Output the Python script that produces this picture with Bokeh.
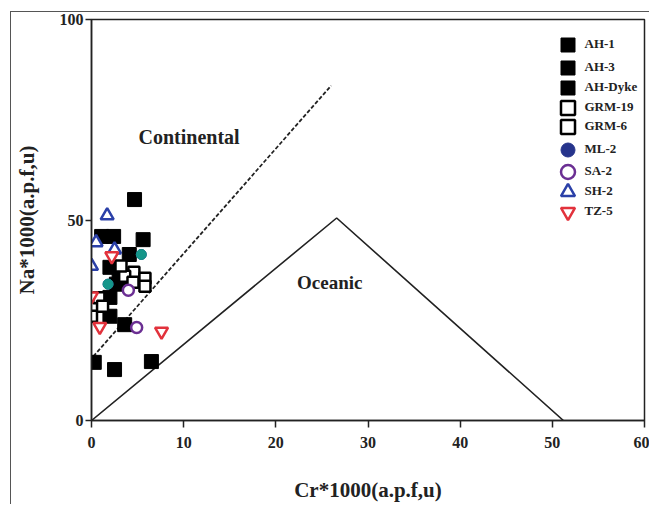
from bokeh.plotting import figure
from bokeh.models import FixedTicker, Label, Legend, LegendItem
from bokeh.embed import file_html
from bokeh.resources import INLINE

# ---- data ----
ah1_x = [4.67, 1.1, 2.4, 5.6, 4.1]
ah1_y = [55.1, 45.9, 45.9, 45.1, 41.4]
ah3_x = [2.0, 3.0, 4.0, 2.7, 2.0]
ah3_y = [38.2, 37.0, 35.0, 34.0, 30.7]
ahd_x = [2.0, 3.6, 0.3, 2.5, 6.5]
ahd_y = [26.0, 23.9, 14.5, 12.7, 14.7]
grm19_x = [0.0, 0.8, 4.6, 5.8, 5.8]
grm19_y = [26.0, 30.6, 37.0, 35.5, 33.5]
grm6_x = [3.6, 4.5, 3.2, 1.2]
grm6_y = [36.0, 34.5, 38.5, 28.5]
ml2_x = [5.4, 1.8]
ml2_y = [41.4, 34.0]
sa2_x = [4.9, 4.0]
sa2_y = [23.2, 32.5]
sh2_x = [1.7, 0.5, 2.5, 0.0]
sh2_y = [51.1, 44.4, 42.6, 38.5]
tz5_x = [2.2, 0.0, 0.9, 7.6]
tz5_y = [41.0, 31.0, 23.4, 22.2]

# field boundaries
tri_x = [0, 26.6, 51.2]
tri_y = [0, 50.5, 0]
dash_x = [0.2, 26.0]
dash_y = [16.0, 83.5]

x_ticks = [0, 10, 20, 30, 40, 50, 60]
y_ticks = [0, 50, 100]

FONT = "Liberation Serif"

p = figure(frame_width=553, frame_height=401, x_range=(0, 60), y_range=(0, 100),
           output_backend="svg", toolbar_location=None,
           min_border_left=78, min_border_right=5, min_border_top=7, min_border_bottom=81)
p.margin = (11, 0, 0, 10)
p.styles = {"border-top": "1.5px solid #555555", "border-left": "1.5px solid #555555"}
p.background_fill_color = "white"
p.border_fill_color = "white"
p.grid.visible = False
p.outline_line_color = "#222222"
p.outline_line_width = 1.5

for ax in (p.xaxis[0], p.yaxis[0]):
    ax.axis_line_color = "#222222"
    ax.axis_line_width = 1.5
    ax.major_tick_line_color = "#222222"
    ax.major_tick_line_width = 1.5
    ax.major_tick_in = 0
    ax.minor_tick_line_color = None
    ax.major_label_text_font = FONT
    ax.major_label_text_font_style = "bold"
    ax.major_label_text_font_size = "16px"
    ax.major_label_text_color = "#222222"
    ax.axis_label_text_font = FONT
    ax.axis_label_text_font_style = "bold"
    ax.axis_label_text_font_size = "21px"
    ax.axis_label_text_color = "#222222"

p.xaxis.ticker = FixedTicker(ticks=x_ticks)
p.yaxis.ticker = FixedTicker(ticks=y_ticks)
p.xaxis.major_tick_out = 7
p.yaxis.major_tick_out = 6
p.xaxis.major_label_standoff = 9
p.yaxis.major_label_standoff = 2
p.xaxis.axis_label = "Cr*1000(a.p.f,u)"
p.yaxis.axis_label = "Na*1000(a.p.f,u)"
p.xaxis.axis_label_standoff = 27
p.yaxis.axis_label_standoff = 18

# field lines
p.line(tri_x, tri_y, line_color="#222222", line_width=1.6)
p.line(dash_x, dash_y, line_color="#222222", line_width=1.8, line_dash="4 2")

# points
r_ah1 = p.scatter(ah1_x, ah1_y, marker="square", size=14, fill_color="black", line_color="black")
r_ah3 = p.scatter(ah3_x, ah3_y, marker="square", size=14, fill_color="black", line_color="black")
r_ahd = p.scatter(ahd_x, ahd_y, marker="square", size=14, fill_color="black", line_color="black")
r_g19 = p.scatter(grm19_x, grm19_y, marker="square", size=11, fill_color="white", line_color="black", line_width=2.5)
r_g6 = p.scatter(grm6_x, grm6_y, marker="square", size=11, fill_color="white", line_color="black", line_width=2.5)
r_ml2 = p.scatter(ml2_x, ml2_y, marker="circle", size=10, fill_color="#26348c", line_color="#26348c")
p.scatter(ml2_x, ml2_y, marker="circle", size=10, fill_color="#15968a", line_color="#15968a")
r_sa2 = p.scatter(sa2_x, sa2_y, marker="circle", size=11, fill_color="white", line_color="#6b2f93", line_width=2.5)
r_sh2 = p.scatter(sh2_x, sh2_y, marker="triangle", size=13, fill_color="white", line_color="#2b40a8", line_width=2.5)
r_tz5 = p.scatter(tz5_x, tz5_y, marker="inverted_triangle", size=13, fill_color="white", line_color="#e2323c", line_width=2.5)

legend_labels = ["AH-1", "AH-3", "AH-Dyke", "GRM-19", "GRM-6", "ML-2", "SA-2", "SH-2", "TZ-5"]
legend_rends = [r_ah1, r_ah3, r_ahd, r_g19, r_g6, r_ml2, r_sa2, r_sh2, r_tz5]
legend_offsets = [25, 48, 68, 88, 107, 130, 152, 172, 192]  # px below frame top
for lab, rend, off in zip(legend_labels, legend_rends, legend_offsets):
    lg = Legend(items=[LegendItem(label=lab, renderers=[rend])],
                location=(458.5, 401 - off - 17.5))
    lg.glyph_width = 35
    lg.glyph_height = 35
    lg.padding = 0
    lg.margin = 0
    lg.label_standoff = 0
    lg.border_line_color = None
    lg.background_fill_alpha = 0
    lg.label_text_font = FONT
    lg.label_text_font_style = "bold"
    lg.label_text_font_size = "13px"
    lg.label_text_color = "#222222"
    p.add_layout(lg)

p.add_layout(Label(x=5.1, y=70.6, text="Continental", text_font=FONT, text_font_style="bold",
                   text_font_size="20px", text_color="#222222", text_baseline="middle"))
p.add_layout(Label(x=22.3, y=34.4, text="Oceanic", text_font=FONT, text_font_style="bold",
                   text_font_size="19px", text_color="#222222", text_baseline="middle"))

open("out.html", "w").write(file_html(p, INLINE))
